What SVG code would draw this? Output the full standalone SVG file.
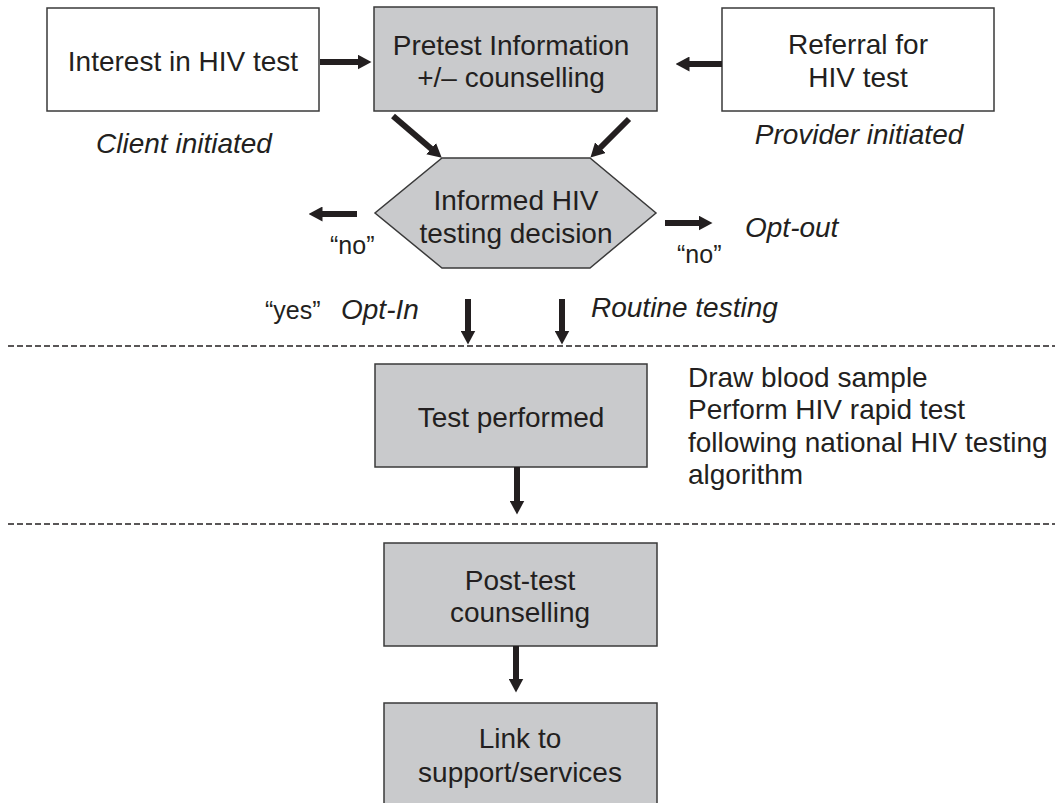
<svg xmlns="http://www.w3.org/2000/svg" width="1059" height="803" viewBox="0 0 1059 803">
<style>
.t{font-family:"Liberation Sans",Arial,sans-serif;font-size:28px;fill:#231f20}
.c{text-anchor:middle}
.i{font-style:italic}
.q{font-size:25px}
.w{fill:#ffffff;stroke:#3a3a3a;stroke-width:1.5}
.g{fill:#c9cacc;stroke:#3a3a3a;stroke-width:1.5}
.a{stroke:#231f20;stroke-width:6;fill:none;marker-end:url(#ah)}
.d{stroke:#231f20;stroke-width:1.6;stroke-dasharray:6 3;fill:none}
</style>
<defs>
<marker id="ah" markerUnits="userSpaceOnUse" markerWidth="14" markerHeight="15" viewBox="0 0 14 15" refX="0.5" refY="7.5" orient="auto">
<path d="M0,0 L14,7.5 L0,15 z" fill="#231f20"/>
</marker>
</defs>
<rect width="1059" height="803" fill="#ffffff"/>
<g id="dividers">
<line class="d" x1="8" y1="346" x2="1055" y2="346"/>
<line class="d" x1="8" y1="524" x2="1055" y2="524"/>
</g>
<g id="interest">
<rect class="w" x="47" y="8" width="272" height="103"/>
<text class="t c" x="183" y="71">Interest in HIV test</text>
</g>
<g id="pretest">
<rect class="g" x="374" y="7" width="283" height="104"/>
<text class="t c" x="511" y="55">Pretest Information</text>
<text class="t c" x="511" y="87">+/– counselling</text>
</g>
<g id="referral">
<rect class="w" x="722" y="8" width="272" height="103"/>
<text class="t c" x="858" y="54">Referral for</text>
<text class="t c" x="858" y="87">HIV test</text>
</g>
<g id="decision">
<polygon class="g" points="442,158 590,158 656,213 590,268 442,268 375,213"/>
<text class="t c" x="516" y="210">Informed HIV</text>
<text class="t c" x="516" y="243">testing decision</text>
</g>
<g id="test">
<rect class="g" x="375" y="364" width="272" height="103"/>
<text class="t c" x="511" y="427">Test performed</text>
</g>
<g id="posttest">
<rect class="g" x="384" y="543" width="273" height="103"/>
<text class="t c" x="520" y="590">Post-test</text>
<text class="t c" x="520" y="622">counselling</text>
</g>
<g id="link">
<rect class="g" x="384" y="703" width="273" height="110"/>
<text class="t c" x="520" y="748">Link to</text>
<text class="t c" x="520" y="782">support/services</text>
</g>
<g id="labels">
<text class="t c i" x="184" y="153">Client initiated</text>
<text class="t c i" x="859" y="144">Provider initiated</text>
<text class="t q" x="330" y="254">“no”</text>
<text class="t q" x="677" y="263">“no”</text>
<text class="t i" x="745" y="237">Opt-out</text>
<text class="t q" x="265" y="319">“yes”</text>
<text class="t i" x="341" y="319">Opt-In</text>
<text class="t i" x="591" y="317">Routine testing</text>
<text class="t" x="688" y="387">Draw blood sample</text>
<text class="t" x="688" y="419">Perform HIV rapid test</text>
<text class="t" x="688" y="452">following national HIV testing</text>
<text class="t" x="688" y="484">algorithm</text>
</g>
<g id="connectors">
<line class="a" x1="320" y1="62" x2="358" y2="62"/>
<line class="a" x1="722" y1="64" x2="689" y2="64"/>
<line class="a" x1="393" y1="116" x2="431.5" y2="149"/>
<line class="a" x1="629" y1="119" x2="600" y2="148"/>
<line class="a" x1="357" y1="214" x2="322" y2="214"/>
<line class="a" x1="665" y1="223" x2="699" y2="223"/>
<line class="a" x1="468" y1="299" x2="468" y2="331"/>
<line class="a" x1="562" y1="299" x2="562" y2="331"/>
<line class="a" x1="517" y1="467" x2="517" y2="501"/>
<line class="a" x1="516" y1="646" x2="516" y2="679"/>
</g>
</svg>
